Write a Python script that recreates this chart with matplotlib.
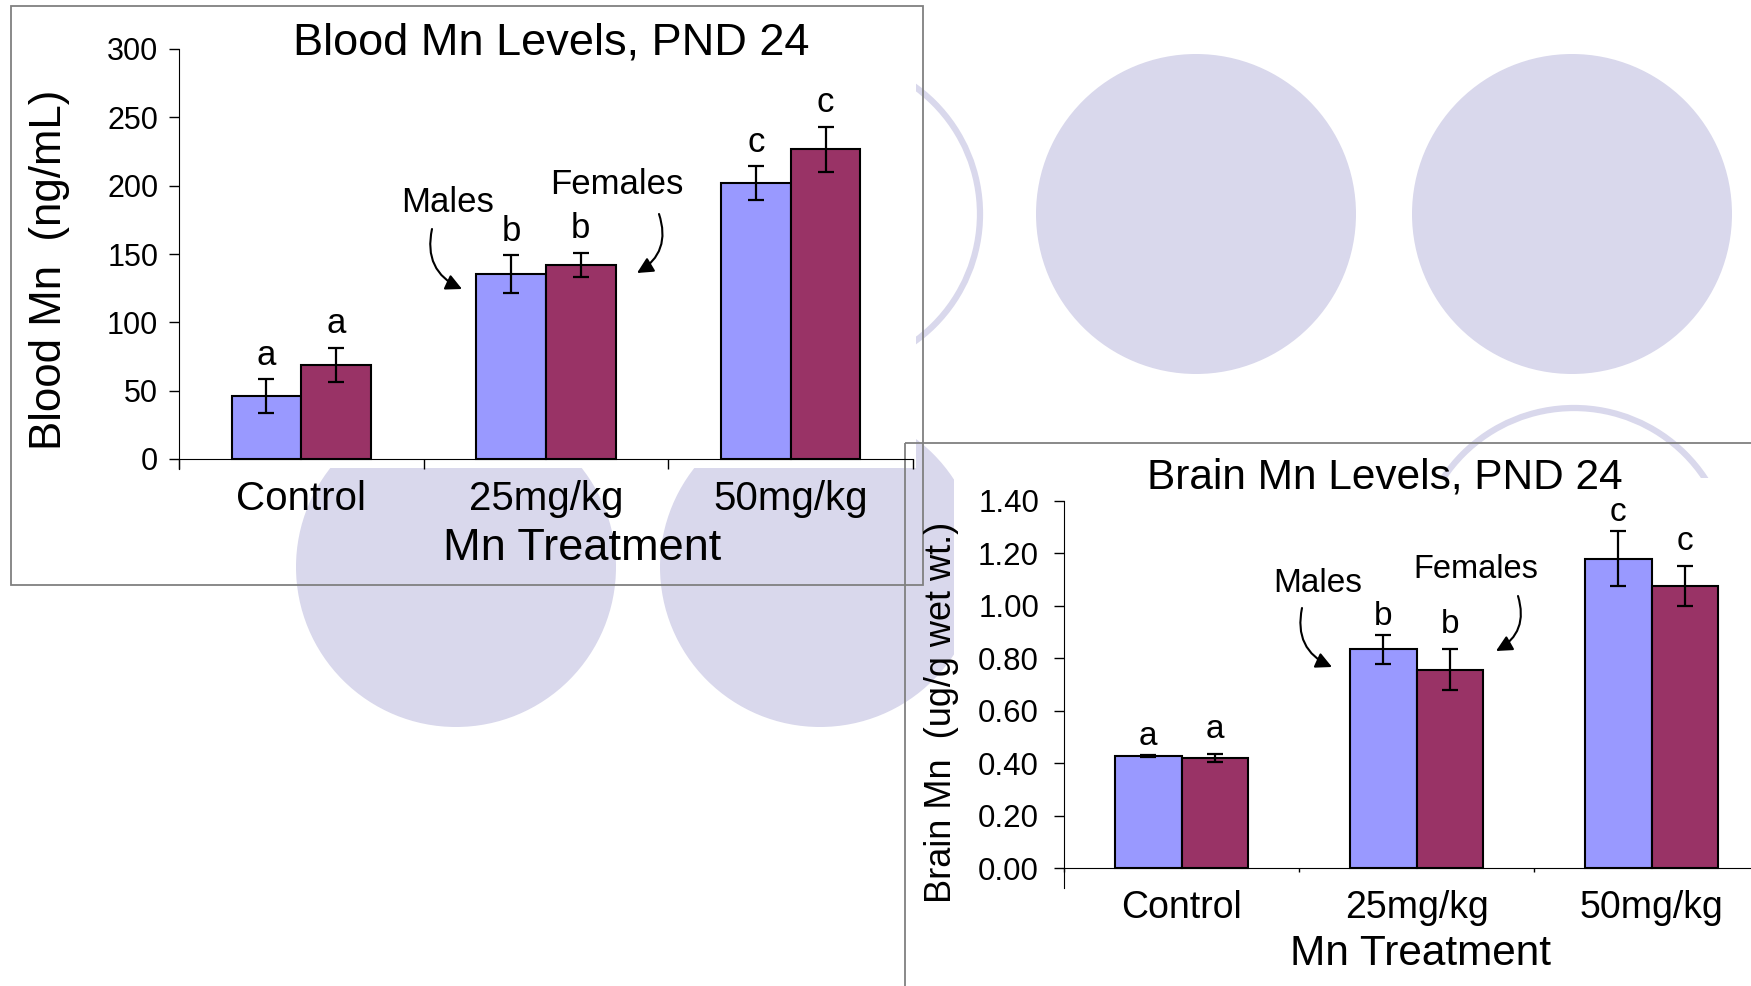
import matplotlib
matplotlib.use("Agg")
import matplotlib.pyplot as plt
from matplotlib.patches import Circle, Rectangle
import numpy as np

plt.rcParams['font.family'] = ['Liberation Sans', 'DejaVu Sans']

groups = ['Control', '25mg/kg', '50mg/kg']

blood_male = [46, 135.5, 202]
blood_male_err = [12.5, 14, 12.5]
blood_female = [68.5, 142, 226.5]
blood_female_err = [12.5, 8.5, 16.5]
blood_letters_male = ['a', 'b', 'c']
blood_letters_female = ['a', 'b', 'c']

brain_male = [0.427, 0.835, 1.18]
brain_male_err = [0.005, 0.055, 0.105]
brain_female = [0.418, 0.757, 1.075]
brain_female_err = [0.015, 0.077, 0.076]
brain_letters_male = ['a', 'b', 'c']
brain_letters_female = ['a', 'b', 'c']

BLUE = '#9999FF'
PLUM = '#993366'
LAV = '#D9D8EC'
W, H = 1751, 986

fig = plt.figure(figsize=(W / 100, H / 100), dpi=100)

# background slide decoration, in pixel coordinates
bg = fig.add_axes([0, 0, 1, 1])
bg.set_xlim(0, W)
bg.set_ylim(H, 0)
bg.axis('off')
for cx, cy in [(1196, 214), (1572, 214), (456, 567), (820, 567)]:
    bg.add_patch(Circle((cx, cy), 160, color=LAV, lw=0))
for cx, cy in [(823, 214), (1574, 565)]:
    bg.add_patch(Circle((cx, cy), 157, fill=False, ec=LAV, lw=4.5))
bg.add_patch(Rectangle((11, 6), 905, 462, color='white', lw=0))
bg.add_patch(Rectangle((954, 478), 800, 510, color='white', lw=0))
bg.add_patch(Rectangle((11, 6), 912, 579, fill=False, ec='#808080', lw=1.3))
bg.add_patch(Rectangle((905, 443), 900, 600, fill=False, ec='#808080', lw=1.3))


def px_axes(x0, x1, y_top, y_bot):
    return fig.add_axes([x0 / W, 1 - y_bot / H, (x1 - x0) / W, (y_bot - y_top) / H])


def draw_chart(ax, male, male_err, female, female_err, lm, lf, ymax, ystep, ext,
               fmt, tick_fs, cat_fs, let_fs, xtick_len, xpad, ypad, off_m, off_f):
    x = np.arange(len(groups))
    w = 0.285
    ax.set_facecolor('none')
    ekw = dict(ecolor='black', elinewidth=1.6, capsize=6, capthick=1.6)
    ax.bar(x - w / 2, male, w, color=BLUE, edgecolor='black', lw=1.5,
           yerr=male_err, error_kw=ekw, clip_on=False)
    ax.bar(x + w / 2, female, w, color=PLUM, edgecolor='black', lw=1.5,
           yerr=female_err, error_kw=ekw, clip_on=False)
    for xi, v, e, t in zip(x - w / 2, male, male_err, lm):
        ax.annotate(t, (xi, v + e), xytext=(0, off_m), textcoords='offset points',
                    ha='center', va='baseline', fontsize=let_fs)
    for xi, v, e, t in zip(x + w / 2, female, female_err, lf):
        ax.annotate(t, (xi, v + e), xytext=(0, off_f), textcoords='offset points',
                    ha='center', va='baseline', fontsize=let_fs)
    ax.set_xlim(-0.5, len(groups) - 0.5)
    ax.set_ylim(-ext, ymax)
    ax.spines['top'].set_visible(False)
    ax.spines['right'].set_visible(False)
    ax.spines['bottom'].set_position(('data', 0))
    ticks = np.arange(0, ymax + ystep / 2, ystep)
    ax.set_yticks(ticks)
    ax.set_yticklabels([fmt.format(v) for v in ticks], fontsize=tick_fs)
    ax.tick_params(axis='y', length=7, width=1, pad=ypad)
    ax.set_xticks(x)
    ax.set_xticklabels(groups, fontsize=cat_fs)
    ax.tick_params(axis='x', which='major', length=0, pad=xpad)
    ax.set_xticks(np.arange(-0.5, len(groups), 1), minor=True)
    ax.tick_params(axis='x', which='minor', length=xtick_len, width=1)


# Blood chart
ax1 = px_axes(179, 913, 49, 469)
draw_chart(ax1, blood_male, blood_male_err, blood_female, blood_female_err,
           blood_letters_male, blood_letters_female, 300, 50, 300 * 10 / 410,
           '{:.0f}', 22, 29, 25, 7, 15, 8, 10, 11)
bg.text(551, 43, 'Blood Mn Levels, PND 24', fontsize=32.5, ha='center', va='center')
bg.text(50, 270, 'Blood Mn  (ng/mL)', fontsize=31.5, ha='center', va='center', rotation=90)
bg.text(582, 549, 'Mn Treatment', fontsize=32.5, ha='center', va='center')
bg.text(448, 202, 'Males', fontsize=25, ha='center', va='center')
bg.text(617, 185, 'Females', fontsize=25, ha='center', va='center')
akw = dict(arrowstyle='-|>', color='black', lw=1.5, mutation_scale=24, shrinkA=0, shrinkB=0)
bg.annotate('', xy=(462, 289), xytext=(432, 229),
            arrowprops=dict(connectionstyle='arc3,rad=0.4', **akw))
bg.annotate('', xy=(637, 273), xytext=(659, 214),
            arrowprops=dict(connectionstyle='arc3,rad=-0.4', **akw))

# Brain chart
ax2 = px_axes(1064, 1769, 501, 888)
draw_chart(ax2, brain_male, brain_male_err, brain_female, brain_female_err,
           brain_letters_male, brain_letters_female, 1.4, 0.2, 1.4 * 20 / 367,
           '{:.2f}', 22.5, 27, 24, 3, 16, 11, 7, 12)
bg.text(1385, 477, 'Brain Mn Levels, PND 24', fontsize=30.5, ha='center', va='center')
bg.text(941, 712, 'Brain Mn  (ug/g wet wt.)', fontsize=26, ha='center', va='center',
        rotation=90)
bg.text(1420, 954, 'Mn Treatment', fontsize=30.5, ha='center', va='center')
bg.text(1318, 584, 'Males', fontsize=24, ha='center', va='center')
bg.text(1476, 570, 'Females', fontsize=23.5, ha='center', va='center')
bg.annotate('', xy=(1332, 667), xytext=(1302, 608),
            arrowprops=dict(connectionstyle='arc3,rad=0.4', **akw))
bg.annotate('', xy=(1496, 651), xytext=(1518, 596),
            arrowprops=dict(connectionstyle='arc3,rad=-0.4', **akw))

fig.savefig('out.png', dpi=100)
